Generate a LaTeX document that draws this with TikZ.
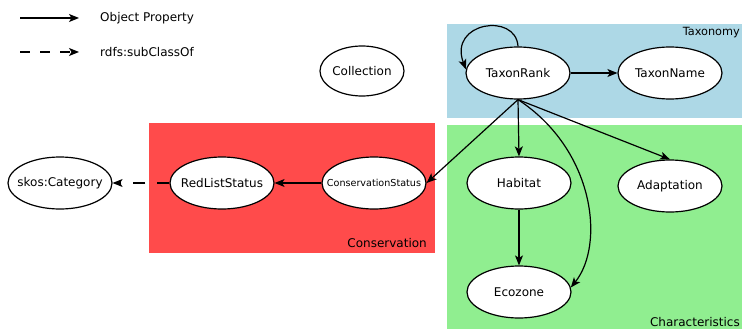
\documentclass[tikz,border=0pt]{standalone}
\usepackage{fontspec}
\setmainfont{DejaVu Sans}
\usetikzlibrary{shapes.geometric,arrows.meta}
\definecolor{taxblue}{HTML}{ADD8E6}
\definecolor{chargreen}{HTML}{90EE90}
\definecolor{consred}{HTML}{FF4B4B}
\newcommand\ztxt[1]{\makebox[0pt][c]{#1}}
\tikzset{
  cls/.style={ellipse,draw=black,fill=white,line width=1.2pt,minimum width=104pt,minimum height=52pt,inner sep=0pt,font=\fontsize{12}{14}\selectfont},
  prop/.style={line width=1.2pt,-{Stealth[length=10pt,width=8pt,inset=2.5pt]}},
  sub/.style={prop,dash pattern=on 12pt off 12pt},
  rlabel/.style={font=\fontsize{12}{14}\selectfont,inner sep=1pt},
}
\begin{document}
\begin{tikzpicture}[x=1pt,y=-1pt]
\useasboundingbox (0,0) rectangle (742,329);
% regions
\fill[taxblue] (447,24) rectangle (742,118);
\fill[chargreen] (447,125) rectangle (742,329);
\fill[consred] (149,123) rectangle (435,253);
\node[rlabel,anchor=east,font=\fontsize{11.3}{13}\selectfont] (taxl) at (741,33) {Taxonomy};
\node[rlabel,anchor=east] (consl) at (428,243) {Conservation};
\node[rlabel,anchor=east] (charl) at (741,322) {Characteristics};
% legend
\coordinate (l1a) at (20,18);
\coordinate (l1b) at (79,18);
\coordinate (l2a) at (20,52);
\coordinate (l2b) at (79,52);
\draw[prop] (l1a) -- (l1b);
\draw[prop,dash pattern=on 10pt off 10pt] (l2a) -- (l2b);
\node[rlabel,anchor=west] (lt1) at (99,18) {Object Property};
\node[rlabel,anchor=west] (lt2) at (99,52) {rdfs:subClassOf};
% nodes
\node[cls,minimum width=84pt,minimum height=50pt] (coll) at (362,71) {\ztxt{Collection}};
\node[cls] (tr) at (518,73) {\ztxt{TaxonRank}};
\node[cls] (tn) at (670,73) {\ztxt{TaxonName}};
\node[cls] (hab) at (519,183) {\ztxt{Habitat}};
\node[cls] (adapt) at (670,186) {\ztxt{Adaptation}};
\node[cls] (eco) at (519,292) {\ztxt{Ecozone}};
\node[cls,font=\fontsize{9.6}{11}\selectfont] (cs) at (374,183) {\ztxt{ConservationStatus}};
\node[cls] (rls) at (222,183) {\ztxt{RedListStatus}};
\node[cls] (skos) at (60,183) {\ztxt{skos:Category}};
% edges
\draw[prop] (tr.north) .. controls (516,12) and (448,22) .. (tr.176);
\draw[prop] (tr) -- (tn);
\draw[prop] (tr.south) -- (cs.east);
\draw[prop] (tr.south) -- (hab.north);
\draw[prop] (tr.south) -- (adapt.north);
\draw[prop] (tr.south) .. controls (595,150) and (605,245) .. (eco.5);
\draw[prop] (hab) -- (eco);
\draw[prop] (cs) -- (rls);
\draw[sub] (rls) -- (skos);
\end{tikzpicture}
\end{document}
